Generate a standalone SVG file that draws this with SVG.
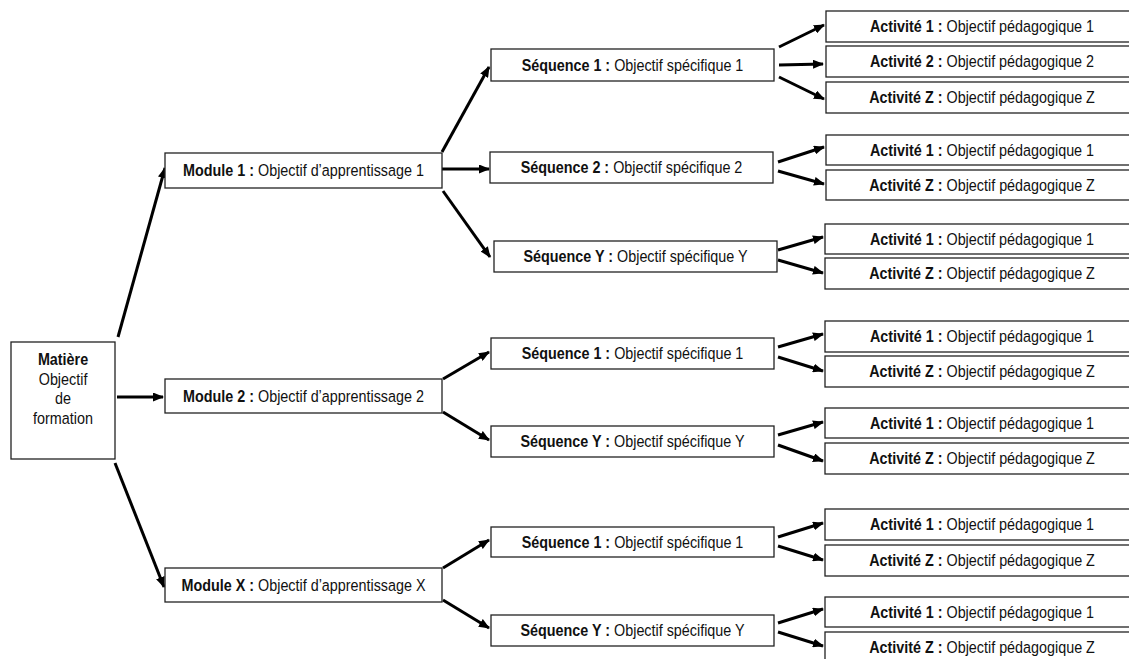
<svg xmlns="http://www.w3.org/2000/svg" width="1129" height="659" viewBox="0 0 1129 659">
<style>
rect.box{fill:#fff;stroke:#222;stroke-width:1.3}
text{font-family:"Liberation Sans",Arial,sans-serif;font-size:17px;fill:#111;text-anchor:middle;transform-box:fill-box;transform-origin:center;transform:scaleX(0.845)}
.b{font-weight:bold}
#connectors path{fill:none;stroke:#000;stroke-width:3;marker-end:url(#arr)}
</style>
<defs>
<marker id="arr" markerUnits="userSpaceOnUse" markerWidth="11" markerHeight="9" refX="10" refY="4.5" orient="auto">
<path d="M0,0 L11,4.5 L0,9 z" fill="#000"/>
</marker>
</defs>
<rect width="1129" height="659" fill="#fff"/>
<g id="connectors">
<path d="M118,337 L165,168"/>
<path d="M117,397 L163,397"/>
<path d="M115,463 L164,587"/>
<path d="M442,152 L489,67"/>
<path d="M442,169 L489,169"/>
<path d="M443,191 L490,257"/>
<path d="M443,379 L489,352"/>
<path d="M443,412 L489,440"/>
<path d="M443,568 L489,540"/>
<path d="M443,600 L489,628"/>
<path d="M779,47 L824,25"/>
<path d="M779,65 L823,64"/>
<path d="M779,77 L824,99"/>
<path d="M778,162 L824,147"/>
<path d="M778,171 L824,184"/>
<path d="M778,250 L823,237"/>
<path d="M778,260 L823,273"/>
<path d="M778,347 L823,334"/>
<path d="M778,357 L823,371"/>
<path d="M778,435 L823,422"/>
<path d="M778,445 L823,461"/>
<path d="M778,537 L823,523"/>
<path d="M778,546 L823,560"/>
<path d="M778,623 L823,609"/>
<path d="M778,632 L823,646"/>
</g>
<g id="matiere">
<rect class="box" x="11" y="342" width="104" height="117"/>
<text x="63" y="365" class="b">Matière</text>
<text x="63" y="385">Objectif</text>
<text x="63" y="404">de</text>
<text x="63" y="424">formation</text>
</g>
<g id="module1"><rect class="box" x="165" y="153" width="277" height="35"/><text x="303.5" y="176.5"><tspan class="b">Module 1 : </tspan>Objectif d’apprentissage 1</text></g>
<g id="module2"><rect class="box" x="165" y="379" width="277" height="34"/><text x="303.5" y="402"><tspan class="b">Module 2 : </tspan>Objectif d’apprentissage 2</text></g>
<g id="moduleX"><rect class="box" x="165" y="568" width="277" height="34"/><text x="303.5" y="591"><tspan class="b">Module X : </tspan>Objectif d’apprentissage X</text></g>
<g id="m1-seq1"><rect class="box" x="491" y="49" width="283" height="32"/><text x="632.5" y="71"><tspan class="b">Séquence 1 : </tspan>Objectif spécifique 1</text></g>
<g id="m1-seq2"><rect class="box" x="490" y="152" width="283" height="31"/><text x="631.5" y="173.5"><tspan class="b">Séquence 2 : </tspan>Objectif spécifique 2</text></g>
<g id="m1-seqY"><rect class="box" x="494" y="241" width="283" height="31"/><text x="635.5" y="262.5"><tspan class="b">Séquence Y : </tspan>Objectif spécifique Y</text></g>
<g id="m2-seq1"><rect class="box" x="491" y="338" width="283" height="31"/><text x="632.5" y="359.5"><tspan class="b">Séquence 1 : </tspan>Objectif spécifique 1</text></g>
<g id="m2-seqY"><rect class="box" x="491" y="426" width="283" height="31"/><text x="632.5" y="447.5"><tspan class="b">Séquence Y : </tspan>Objectif spécifique Y</text></g>
<g id="mX-seq1"><rect class="box" x="491" y="527" width="283" height="30"/><text x="632.5" y="548"><tspan class="b">Séquence 1 : </tspan>Objectif spécifique 1</text></g>
<g id="mX-seqY"><rect class="box" x="491" y="615" width="283" height="31"/><text x="632.5" y="636.5"><tspan class="b">Séquence Y : </tspan>Objectif spécifique Y</text></g>
<g id="a-1-1"><rect class="box" x="826" y="11" width="312" height="31"/><text x="982" y="32.5"><tspan class="b">Activité 1 : </tspan>Objectif pédagogique 1</text></g>
<g id="a-1-2"><rect class="box" x="826" y="46" width="312" height="31"/><text x="982" y="67.5"><tspan class="b">Activité 2 : </tspan>Objectif pédagogique 2</text></g>
<g id="a-1-z"><rect class="box" x="826" y="82" width="312" height="31"/><text x="982" y="103.5"><tspan class="b">Activité Z : </tspan>Objectif pédagogique Z</text></g>
<g id="a-2-1"><rect class="box" x="826" y="135" width="312" height="30"/><text x="982" y="156"><tspan class="b">Activité 1 : </tspan>Objectif pédagogique 1</text></g>
<g id="a-2-z"><rect class="box" x="826" y="170" width="312" height="30"/><text x="982" y="191"><tspan class="b">Activité Z : </tspan>Objectif pédagogique Z</text></g>
<g id="a-3-1"><rect class="box" x="825" y="224" width="313" height="30"/><text x="982" y="245"><tspan class="b">Activité 1 : </tspan>Objectif pédagogique 1</text></g>
<g id="a-3-z"><rect class="box" x="825" y="258" width="313" height="31"/><text x="982" y="279.5"><tspan class="b">Activité Z : </tspan>Objectif pédagogique Z</text></g>
<g id="a-4-1"><rect class="box" x="825" y="321" width="313" height="31"/><text x="982" y="342.5"><tspan class="b">Activité 1 : </tspan>Objectif pédagogique 1</text></g>
<g id="a-4-z"><rect class="box" x="825" y="356" width="313" height="31"/><text x="982" y="377.5"><tspan class="b">Activité Z : </tspan>Objectif pédagogique Z</text></g>
<g id="a-5-1"><rect class="box" x="825" y="408" width="313" height="30"/><text x="982" y="429"><tspan class="b">Activité 1 : </tspan>Objectif pédagogique 1</text></g>
<g id="a-5-z"><rect class="box" x="825" y="443" width="313" height="31"/><text x="982" y="464.5"><tspan class="b">Activité Z : </tspan>Objectif pédagogique Z</text></g>
<g id="a-6-1"><rect class="box" x="825" y="509" width="313" height="31"/><text x="982" y="530.5"><tspan class="b">Activité 1 : </tspan>Objectif pédagogique 1</text></g>
<g id="a-6-z"><rect class="box" x="825" y="545" width="313" height="31"/><text x="982" y="566.5"><tspan class="b">Activité Z : </tspan>Objectif pédagogique Z</text></g>
<g id="a-7-1"><rect class="box" x="825" y="597" width="313" height="30"/><text x="982" y="618"><tspan class="b">Activité 1 : </tspan>Objectif pédagogique 1</text></g>
<g id="a-7-z"><rect class="box" x="825" y="632" width="313" height="31"/><text x="982" y="653.5"><tspan class="b">Activité Z : </tspan>Objectif pédagogique Z</text></g>
</svg>
